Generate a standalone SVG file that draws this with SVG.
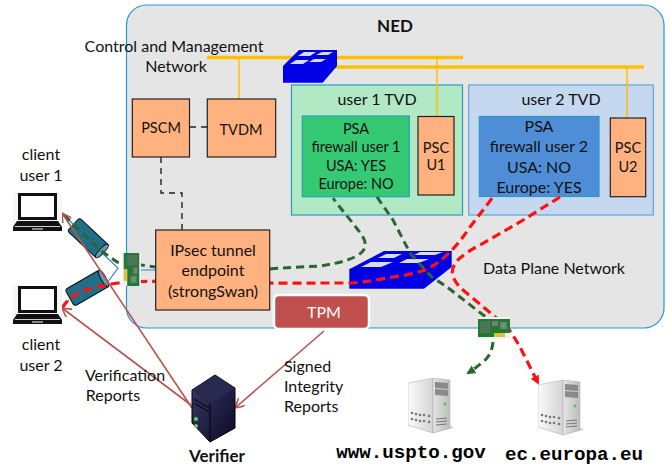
<svg xmlns="http://www.w3.org/2000/svg" width="671" height="468" viewBox="0 0 671 468">
<defs>
<style>
text{font-family:Lato,"Noto Sans","Liberation Sans",sans-serif;fill:#111;text-anchor:middle}
.t{font-size:16px}
.s{font-size:14.500px}
.st{text-anchor:start}
.mono{font-family:"Liberation Mono",monospace;font-weight:700;font-size:19.200px;fill:#000}
.box{fill:#ffb27f;stroke:#222;stroke-width:1.2}
.y{stroke:#ffc000;fill:none}
.g{fill:none;stroke:#2a662f;stroke-width:3;stroke-dasharray:8 5}
.r{fill:none;stroke:#f11;stroke-width:3.2;stroke-dasharray:9 5}
.v{fill:none;stroke:#b85450;stroke-width:1.6}
.k{fill:none;stroke:#222;stroke-width:1.4;stroke-dasharray:6 5}
.b{fill:none;stroke:#2e86c8;stroke-width:1.2}
</style>
<marker id="ag" markerWidth="10" markerHeight="10" refX="7" refY="4.500" orient="auto" markerUnits="userSpaceOnUse"><path d="M0 0L9 4.500L0 9z" fill="#2a662f"/></marker>
<marker id="ar" markerWidth="10" markerHeight="10" refX="7" refY="4.500" orient="auto" markerUnits="userSpaceOnUse"><path d="M0 0L9 4.500L0 9z" fill="#f11"/></marker>
<marker id="av" markerWidth="12" markerHeight="12" refX="10" refY="5" orient="auto" markerUnits="userSpaceOnUse"><path d="M1 0L10 5L1 10" fill="none" stroke="#b85450" stroke-width="1.6"/></marker>
<symbol id="laptop" viewBox="0 0 49 38"><rect width="49" height="38" fill="#f6f6f6"/><path d="M5 0h39v27H5z" fill="#111"/><path d="M8 3h33v21H8z" fill="#fff"/><path d="M4 28h41l4 6v4H0v-4z" fill="#111"/><path d="M2 33.500h45" stroke="#fff" stroke-width=".8"/><path d="M19 36h11" stroke="#fff" stroke-width="1"/></symbol>
<linearGradient id="srv" x1="0" x2="1"><stop offset="0" stop-color="#fafafa"/><stop offset="1" stop-color="#d4d4d4"/></linearGradient>
<linearGradient id="fr" x1="0" x2="1"><stop offset="0" stop-color="#e4e4e4"/><stop offset="1" stop-color="#bdbdbd"/></linearGradient>
<linearGradient id="vf" x1="0" x2="1" y1="0" y2="1"><stop offset="0" stop-color="#3c3a68"/><stop offset="1" stop-color="#0b0a26"/></linearGradient>
<symbol id="server" viewBox="0 0 46 58"><path d="M0 47L25 55L46 50L42 47z" fill="#bbb" opacity=".6"/><path d="M0 5L25 0V55L0 47z" fill="url(#srv)" stroke="#aaa" stroke-width=".5"/><path d="M25 0L42 2V50L25 55z" fill="url(#fr)" stroke="#aaa" stroke-width=".5"/><path d="M27 4L40 5V11L27 10zM27 11L40 12V18L27 17z" fill="#8a8a8a"/><circle cx="37" cy="26" r="1.500" fill="#4c4"/><path d="M28 41L39 40M28 44L39 43M28 47L39 46" stroke="#777" stroke-width="1.200"/><g fill="#777"><circle cx="4" cy="35" r="1.300"/><circle cx="8" cy="36" r="1.300"/><circle cx="12" cy="37" r="1.300"/><circle cx="16" cy="37" r="1.300"/><circle cx="21" cy="38" r="1.300"/><circle cx="4" cy="41" r="1.300"/><circle cx="8" cy="42" r="1.300"/><circle cx="12" cy="43" r="1.300"/><circle cx="16" cy="43" r="1.300"/><circle cx="21" cy="44" r="1.300"/></g></symbol>
<symbol id="nic" viewBox="0 0 32 22" preserveAspectRatio="none"><rect width="32" height="22" fill="#f2f2f2"/><path d="M0 2H32V16H16V20H0z" fill="#1f7a35"/><path d="M2 4h10v12H2z" fill="#666"/><path d="M3 6h8M3 9h8M3 12h8M5 4v12M8 4v12" stroke="#2a8a3a" stroke-width="1"/><path d="M14 4h6v5h-6zM22 5h7v7h-7z" fill="#7a7a7a"/><path d="M24 7h3v3h-3z" fill="#2fbf5a"/><path d="M16 16H27V20H16z" fill="#d8c23a"/></symbol>
</defs>

<g id="ned">
<rect x="126.500" y="5" width="537.500" height="323" rx="20" fill="#e5e5e5" stroke="#1f9bd1" stroke-width="1.2"/>
<text x="395" y="32" font-size="17" font-weight="700">NED</text>
</g>

<g id="cm-label">
<text class="t" x="174" y="52">Control and Management</text>
<text class="t" x="176" y="72">Network</text>
</g>

<g id="dp-label"><text class="t" x="554" y="274">Data Plane Network</text></g>

<g id="tvd1">
<rect x="291.500" y="85" width="171" height="130" fill="#b1e9c5" stroke="#2a9cc0" stroke-width="1.2"/>
<text class="t" x="377" y="105">user 1 TVD</text>
</g>
<g id="tvd2">
<rect x="468.700" y="85" width="184.600" height="130" fill="#c5d8f0" stroke="#5aa8d8" stroke-width="1.2"/>
<text class="t" x="561" y="105">user 2 TVD</text>
</g>

<g id="buses">
<path class="y" stroke-width="3.500" d="M207 57.500H463"/>
<path class="y" stroke-width="3.500" d="M310 67H644"/>
<path class="y" stroke-width="1.500" d="M239 57.500V99M437 58V116M627 67V118"/>
</g>

<g id="psa1">
<rect x="302.300" y="116" width="107" height="80.700" fill="#35c974" stroke="#2a9cc0" stroke-width="1.2"/>
<text class="s" x="356" y="134">PSA</text><text class="s" x="356" y="152">firewall user 1</text><text class="s" x="356" y="171">USA: YES</text><text class="s" x="356" y="189">Europe: NO</text>
</g>
<g id="psc1">
<rect class="box" x="418" y="116.500" width="36" height="78.500"/>
<text class="s" x="436" y="153">PSC</text><text class="s" x="436" y="170">U1</text>
</g>
<g id="psa2">
<rect x="479.300" y="116.500" width="119.700" height="80" fill="#4f8ed6" stroke="#2a9cc0" stroke-width="1.2"/>
<text class="t" x="539" y="132">PSA</text><text class="t" x="539" y="152">firewall user 2</text><text class="t" x="539" y="173">USA: NO</text><text class="t" x="539" y="193">Europe: YES</text>
</g>
<g id="psc2">
<rect class="box" x="610.300" y="118" width="35.400" height="78.700"/>
<text class="s" x="628" y="153">PSC</text><text class="s" x="628" y="172">U2</text>
</g>
<g id="pscm"><rect class="box" x="132.300" y="99" width="57.200" height="58"/><text class="s" x="161" y="133">PSCM</text></g>
<g id="tvdm"><rect class="box" x="207.300" y="99" width="68.400" height="58"/><text class="s" x="241" y="135">TVDM</text></g>

<g id="switch1">
<path d="M283 66L299 50H337V66L322.700 82.700H283z" fill="#0000e6"/>
<path d="M298 56l6-4h12l-6 4zM316 55l6-3h11l-5 3zM290 64l6-4h13l-6 4zM309 62l5-3h12l-5 3z" fill="#d8dcf8"/>
</g>
<g id="switch2">
<path d="M349.300 269.300L384 251H451.700V267L424 288.700H349.300z" fill="#0000e6"/>
<path d="M424 269.500V288M349.300 269.500H424L451.700 251" stroke="#0000b0" stroke-width=".7" fill="none"/>
<path d="M378 258l8-4h16l-8 4zM414 255l6-3h23l-8 3zM361 267l10-5h22l-12 5zM399 263l8-4h22l-10 4z" fill="#d8dcf8"/>
</g>

<g id="tunnels">
<g id="tunnel1" transform="translate(88 238) rotate(43)"><rect x="-20" y="-9" width="40" height="18" rx="3" fill="#1f6f88" stroke="#111"/><ellipse cx="19" cy="0" rx="2.500" ry="9" fill="#5fa0b4" stroke="#111"/></g>
<g id="tunnel2" transform="translate(87 288) rotate(-30)"><rect x="-20" y="-9.500" width="40" height="19" rx="3" fill="#1f6f88" stroke="#111"/><ellipse cx="19" cy="0" rx="2.500" ry="9.500" fill="#5fa0b4" stroke="#111"/></g>
</g>

<g id="connectors">
<path class="k" d="M161 157V193H182V230"/>
<path class="k" d="M190 127H207"/>
<path class="b" d="M62 213L74 225M102 253L118 268L107 283M69 300L62 308M141 270H156"/>
<path class="g" d="M64 215L72 223 100 250 117 262 156 267"/>
<path class="g" d="M270 269C290 267 305 267 320 266C340 263 355 259 362 252C368 246 365 238 358 230C350 219 340 208 333 198"/>
<path class="g" d="M377 197L393 220 410 253C420 265 430 275 433 278C445 285 452 291 460 297L487 318"/>
<path class="g" marker-end="url(#ag)" d="M493 342C492 352 488 358 483 362C478 366 473 370 468 373"/>
<path class="r" d="M62 308C66 302 70 298 76 294C90 287 110 284 125 282C170 280 250 284 322 283H352C365 282 376 280 387 278C400 276 413 274 425 270C436 265 444 258 450 252C458 244 464 236 470 227L493 197"/>
<path class="r" marker-end="url(#ar)" d="M560 197L520 222 480 245C470 250 465 254 460 258C453 264 451 271 453 277C456 283 459 287 463 290L487 310 508 328C515 338 519 345 523 353L538 383"/>
<path class="v" marker-end="url(#av)" d="M192 408L62 213"/>
<path class="v" marker-end="url(#av)" d="M191 405L62 308"/>
<path class="v" marker-end="url(#av)" d="M324 331L235 408"/>
</g>

<g id="ipsec">
<rect class="box" x="155.700" y="230" width="114" height="80"/>
<text class="t" x="213" y="256">IPsec tunnel</text><text class="t" x="213" y="276">endpoint</text><text class="t" x="213" y="297">(strongSwan)</text>
</g>

<g id="nic1"><use href="#nic" transform="translate(141 253) rotate(90)" width="33" height="19"/></g>
<g id="nic2"><use href="#nic" x="478" y="317" width="32" height="22"/></g>

<g id="client1">
<text class="t" x="41" y="160">client</text><text class="t" x="41" y="181">user 1</text>
<use href="#laptop" x="13" y="193" width="49" height="38"/>
</g>
<g id="client2">
<text class="t" x="41" y="350">client</text><text class="t" x="41" y="371">user 2</text>
<use href="#laptop" x="13" y="286" width="49" height="38"/>
</g>

<g id="tpm">
<rect x="274" y="295" width="95" height="34" rx="5" fill="#c0504d" stroke="#fff" stroke-width="2.500"/>
<text x="324" y="318" font-size="16" style="fill:#fff">TPM</text>
</g>

<g id="report-labels">
<text class="t" x="125" y="381">Verification</text><text class="t" x="113" y="401">Reports</text>
<text class="t st" x="284" y="372">Signed</text><text class="t st" x="284" y="392">Integrity</text><text class="t st" x="284" y="412">Reports</text>
</g>

<g id="verifier">
<path d="M192 390L215 375L235 388V428L210 442L192 423z" fill="url(#vf)" stroke="#000"/>
<path d="M192 390L215 375L235 388L210 403z" fill="#2a2950"/>
<path d="M210 403V442" stroke="#000"/>
<path d="M194 399l15 9M194 403l15 9" stroke="#000"/>
<circle cx="196" cy="419" r="2" fill="#6c6"/><circle cx="196" cy="426" r="2" fill="#6c6"/>
<text x="217" y="462" font-size="17" font-weight="700">Verifier</text>
</g>

<g id="uspto">
<use href="#server" x="408" y="378" width="46" height="58"/>
<text class="mono" x="411" y="458">www.uspto.gov</text>
</g>
<g id="europa">
<use href="#server" x="538" y="380" width="46" height="58"/>
<text class="mono" x="574" y="460">ec.europa.eu</text>
</g>
</svg>
